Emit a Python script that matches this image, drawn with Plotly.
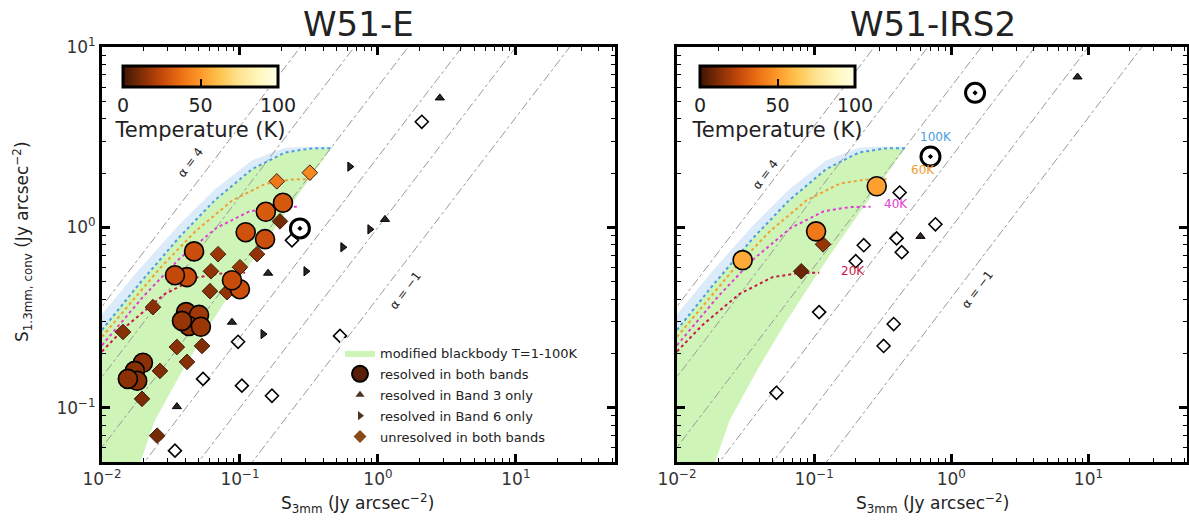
import plotly.graph_objects as go

W, H = 1189, 523
FONT = "DejaVu Sans"

# 1.3 mm / 3 mm frequency ratio (226 GHz / 92 GHz) for constant spectral-index lines
NU_RATIO = 226.0 / 92.0
ALPHAS = [4, 3, 2, 1, 0, -1]

# modified blackbody envelope in the (S_3mm, S_1.3mm) plane, Jy/arcsec^2
mbb_upper_x = [0.01, 0.0184, 0.0361, 0.0655, 0.122, 0.212, 0.328, 0.431, 0.467]
mbb_upper_y = [0.27, 0.481, 0.877, 1.411, 2.10, 2.60, 2.74, 2.75, 2.75]
mbb_lower_x = [0.46, 0.23, 0.134, 0.086, 0.062, 0.0383, 0.02415, 0.019, 0.01]
mbb_lower_y = [2.75, 1.30, 0.723, 0.437, 0.297, 0.161, 0.0849, 0.05, 0.05]
halo_x = [0.01, 0.0184, 0.0361, 0.0655, 0.122, 0.212, 0.30, 0.467]
halo_y = [0.33, 0.58, 1.03, 1.62, 2.35, 2.76, 2.80, 2.80]

# fixed-temperature tracks (optical depth increasing to the right)
t100_x = [0.01, 0.0184, 0.0361, 0.0655, 0.122, 0.212, 0.328, 0.431, 0.467]
t100_y = [0.27, 0.481, 0.877, 1.411, 2.10, 2.60, 2.74, 2.75, 2.75]
t60_x = [0.01, 0.0261, 0.0474, 0.0881, 0.1534, 0.2376, 0.312, 0.338]
t60_y = [0.247, 0.590, 0.949, 1.412, 1.746, 1.844, 1.85, 1.85]
t40_x = [0.01, 0.02, 0.0362, 0.0674, 0.1173, 0.1817, 0.2387, 0.258]
t40_y = [0.222, 0.415, 0.667, 0.992, 1.227, 1.296, 1.30, 1.30]
t20_x = [0.01, 0.0153, 0.0285, 0.0496, 0.0769, 0.101, 0.109]
t20_y = [0.205, 0.287, 0.427, 0.529, 0.558, 0.56, 0.56]
track_labels = ["100K", "60K", "40K", "20K"]
track_colors = ["#4a9ee0", "#f0a030", "#e040d0", "#c81848"]

# ---------------- W51-E ----------------
e_both_x = [0.205, 0.154, 0.110, 0.152, 0.0465, 0.0413, 0.0338, 0.1, 0.0875, 0.0407,
            0.0505, 0.0427, 0.0521, 0.038, 0.0198, 0.0173, 0.0180, 0.0154]
e_both_y = [1.37, 1.22, 0.94, 0.86, 0.736, 0.53, 0.543, 0.454, 0.509, 0.339,
            0.327, 0.284, 0.281, 0.303, 0.1775, 0.16, 0.141, 0.1445]
e_both_t = [30, 31, 28, 27, 27, 26, 25, 27, 26, 17, 18, 16, 17, 16, 14, 13, 13, 14]

e_unres_x = [0.185, 0.321, 0.0694, 0.0616, 0.1, 0.0606, 0.0805, 0.0234, 0.0142,
             0.0349, 0.0531, 0.0413, 0.0263, 0.0195, 0.0251, 0.133, 0.195]
e_unres_y = [1.80, 2.01, 0.71, 0.571, 0.601, 0.443, 0.437, 0.361, 0.263,
             0.217, 0.220, 0.1795, 0.16, 0.112, 0.070, 0.71, 1.08]
e_unres_t = [40, 45, 17, 15, 17, 14, 15, 14, 13, 14, 12, 13, 12, 11, 10, 15, 10]

e_b3_x = [1.125, 0.16, 0.0875, 2.81, 0.0349]
e_b3_y = [1.107, 0.557, 0.298, 5.22, 0.1014]
e_b6_x = [0.557, 0.301, 0.875, 0.147, 0.626]
e_b6_y = [0.776, 0.571, 0.975, 0.256, 2.17]

e_lim_x = [0.238, 0.0969, 0.054, 0.1033, 0.1706, 0.0338, 0.531, 2.08]
e_lim_y = [0.847, 0.232, 0.1445, 0.1325, 0.1165, 0.0578, 0.25, 3.85]
e_ring_x = [0.272]
e_ring_y = [0.987]

# ---------------- W51-IRS2 ----------------
i_both_x = [0.286, 0.1033, 0.0301]
i_both_y = [1.69, 0.95, 0.658]
i_both_t = [52, 40, 55]
i_unres_x = [0.116, 0.0805]
i_unres_y = [0.805, 0.571]
i_unres_t = [16, 8]
i_b3_x = [0.596, 8.32]
i_b3_y = [0.891, 6.82]
i_lim_x = [0.42, 0.23, 0.201, 0.399, 0.435, 0.766, 0.1087, 0.0531, 0.38, 0.321]
i_lim_y = [1.56, 0.796, 0.649, 0.869, 0.728, 1.04, 0.339, 0.121, 0.291, 0.220]
i_ring_x = [0.705, 1.49]
i_ring_y = [2.47, 5.57]

x_tick_vals = [0.01, 0.1, 1, 10]
x_tick_text = ["10<sup>−2</sup>", "10<sup>−1</sup>", "10<sup>0</sup>", "10<sup>1</sup>"]
y_tick_vals = [0.1, 1, 10]
y_tick_text = ["10<sup>−1</sup>", "10<sup>0</sup>", "10<sup>1</sup>"]

TEMP_SCALE = [[0.0, "#3d1505"], [0.125, "#842e05"], [0.25, "#c4480a"],
              [0.375, "#ec7014"], [0.5, "#fe9929"], [0.625, "#fec44f"],
              [0.75, "#fee391"], [0.875, "#fff7bc"], [1.0, "#ffffe5"]]


def paper(px, py):
    return px / W, 1 - py / H


fig = go.Figure()


def add_panel(xa, ya, cax, both, unres, b3, b6, lim, ring):
    # blackbody envelope
    fig.add_trace(go.Scatter(
        x=halo_x + t100_x[::-1], y=halo_y + t100_y[::-1], fill="toself",
        fillcolor="rgba(175,210,245,0.45)", line=dict(width=0), mode="lines",
        hoverinfo="skip", showlegend=False, xaxis=xa, yaxis=ya))
    fig.add_trace(go.Scatter(
        x=mbb_upper_x + mbb_lower_x, y=mbb_upper_y + mbb_lower_y, fill="toself",
        fillcolor="#cff4b8", line=dict(width=0), mode="lines",
        name="modified blackbody T=1-100K", legendgroup="g0", legendrank=1,
        showlegend=(xa == "x"), xaxis=xa, yaxis=ya))
    # constant spectral index lines
    for a in ALPHAS:
        xs = [1e-3, 1e3]
        fig.add_trace(go.Scatter(
            x=xs, y=[v * NU_RATIO ** a for v in xs], mode="lines",
            line=dict(color="#9a9a9a", width=1, dash="dashdot"),
            hoverinfo="skip", showlegend=False, xaxis=xa, yaxis=ya))
    # temperature tracks
    for (tx, ty), col in zip([(t100_x, t100_y), (t60_x, t60_y), (t40_x, t40_y),
                              (t20_x, t20_y)], track_colors):
        fig.add_trace(go.Scatter(
            x=tx, y=ty, mode="lines", line=dict(color=col, width=2, dash="dot"),
            hoverinfo="skip", showlegend=False, xaxis=xa, yaxis=ya))
    # sources
    lx, ly = lim
    fig.add_trace(go.Scatter(
        x=lx, y=ly, mode="markers", showlegend=False, xaxis=xa, yaxis=ya,
        marker=dict(symbol="diamond-open", size=10, color="black",
                    line=dict(width=1.6))))
    rx, ry = ring
    fig.add_trace(go.Scatter(
        x=rx, y=ry, mode="markers", showlegend=False, xaxis=xa, yaxis=ya,
        marker=dict(symbol="circle-dot", size=19, color="white",
                    line=dict(width=3, color="black"))))
    if b3 is not None:
        fig.add_trace(go.Scatter(
            x=b3[0], y=b3[1], mode="markers", showlegend=False, xaxis=xa, yaxis=ya,
            marker=dict(symbol="triangle-up", size=8, color="#2e2420",
                        line=dict(width=1, color="black"))))
    if b6 is not None:
        fig.add_trace(go.Scatter(
            x=b6[0], y=b6[1], mode="markers", showlegend=False, xaxis=xa, yaxis=ya,
            marker=dict(symbol="triangle-right", size=8, color="#2e2420",
                        line=dict(width=1, color="black"))))
    ux, uy, ut = unres
    fig.add_trace(go.Scatter(
        x=ux, y=uy, mode="markers", showlegend=False, xaxis=xa, yaxis=ya,
        marker=dict(symbol="diamond", size=12, color=ut, coloraxis=cax,
                    line=dict(width=1, color="#3a2010"))))
    bx, by, bt = both
    fig.add_trace(go.Scatter(
        x=bx, y=by, mode="markers", showlegend=False, xaxis=xa, yaxis=ya,
        marker=dict(symbol="circle", size=19, color=bt, coloraxis=cax,
                    line=dict(width=1.6, color="black"))))


add_panel("x", "y", "coloraxis",
          (e_both_x, e_both_y, e_both_t), (e_unres_x, e_unres_y, e_unres_t),
          (e_b3_x, e_b3_y), (e_b6_x, e_b6_y), (e_lim_x, e_lim_y), (e_ring_x, e_ring_y))
add_panel("x2", "y2", "coloraxis2",
          (i_both_x, i_both_y, i_both_t), (i_unres_x, i_unres_y, i_unres_t),
          (i_b3_x, i_b3_y), None, (i_lim_x, i_lim_y), (i_ring_x, i_ring_y))

# legend entries
legend_items = [
    ("resolved in both bands", dict(symbol="circle", size=16, color="#5a1e08",
                                    line=dict(width=2, color="black"))),
    ("resolved in Band 3 only", dict(symbol="triangle-up", size=8, color="#4a3426")),
    ("resolved in Band 6 only", dict(symbol="triangle-right", size=8, color="#4a3426")),
    ("unresolved in both bands", dict(symbol="diamond", size=10, color="#8a4a1a")),
]
for k, (name, mk) in enumerate(legend_items):
    fig.add_trace(go.Scatter(x=[None], y=[None], mode="markers", name=name,
                             marker=mk, legendgroup=f"g{k + 1}", legendrank=k + 2,
                             xaxis="x", yaxis="y"))

minor_vals = [m * 10 ** e for e in range(-3, 3) for m in range(2, 10)]


def axis_style(domain, rng, tickvals, ticktext, anchor, labels=True):
    return dict(
        type="log", domain=domain, range=rng, anchor=anchor, automargin=False,
        tickvals=tickvals, ticktext=ticktext, showticklabels=labels,
        ticks="inside", ticklen=8, tickwidth=2.5, tickcolor="black",
        showline=True, linewidth=3, linecolor="black", mirror="allticks",
        showgrid=False, zeroline=False,
        tickfont=dict(family=FONT, size=17, color="#333"),
        minor=dict(tickvals=minor_vals, ticks="inside", ticklen=4,
                   tickwidth=1.2, tickcolor="black", showgrid=False),
    )


xr = [-2, 1.7185]
yr = [-1.30103, 1]
xd1 = [102 / W, 615 / W]
xd2 = [677 / W, 1187 / W]
yd = [1 - 462 / H, 1 - 47 / H]


def cbar(cx):
    return dict(orientation="h", x=cx, xanchor="center", y=1 - 66 / H,
                yanchor="top", ypad=0, xpad=0, len=155, lenmode="pixels",
                thickness=21, thicknessmode="pixels", outlinewidth=3,
                outlinecolor="black", tickvals=[0, 50, 100], ticks="inside",
                ticklen=9, tickwidth=2, tickcolor="black",
                tickfont=dict(family=FONT, size=19, color="#222"),
                title=dict(text="Temperature (K)", side="bottom",
                           font=dict(family=FONT, size=21, color="#222")))


fig.update_layout(
    width=W, height=H, margin=dict(l=0, r=0, t=0, b=0, autoexpand=False),
    paper_bgcolor="white", plot_bgcolor="white",
    font=dict(family=FONT, color="#222"),
    xaxis=axis_style(xd1, xr, x_tick_vals, x_tick_text, "y"),
    yaxis=axis_style(yd, yr, y_tick_vals, y_tick_text, "x"),
    xaxis2=axis_style(xd2, xr, x_tick_vals, x_tick_text, "y2"),
    yaxis2=axis_style(yd, yr, y_tick_vals, y_tick_text, "x2", labels=False),
    coloraxis=dict(colorscale=TEMP_SCALE, cmin=0, cmax=100,
                   colorbar=cbar(200.5 / W)),
    coloraxis2=dict(colorscale=TEMP_SCALE, cmin=0, cmax=100,
                    colorbar=cbar(777.5 / W)),
    legend=dict(x=340 / W, y=1 - 338 / H, xanchor="left", yanchor="top",
                bgcolor="rgba(255,255,255,0.85)", borderwidth=0,
                font=dict(family=FONT, size=13, color="#222"),
                tracegroupgap=1, itemsizing="trace"),
    showlegend=True,
)

annotations = []


def text_at(px, py, text, size, color="#222", angle=0):
    x, y = paper(px, py)
    annotations.append(dict(x=x, y=y, xref="paper", yref="paper", text=text,
                            showarrow=False, textangle=angle,
                            font=dict(family=FONT, size=size, color=color),
                            xanchor="center", yanchor="middle"))


text_at(358, 24, "W51-E", 34)
text_at(933, 24, "W51-IRS2", 34)
xlab = "S<sub>3mm</sub> (Jy arcsec<sup>−2</sup>)"
text_at(357, 503, xlab, 17)
text_at(932, 503, xlab, 17)
text_at(22, 242, "S<sub>1.3mm, conv</sub> (Jy arcsec<sup>−2</sup>)", 17, angle=-90)

slope_angle = -52.7
text_at(190, 163, "α = 4", 12, angle=slope_angle)
text_at(405, 291, "α = −1", 12, angle=slope_angle)
text_at(765, 175, "α = 4", 12, angle=slope_angle)
text_at(977, 290, "α = −1", 12, angle=slope_angle)

for (px, py), lab, col in zip([(936, 137), (923, 170), (896, 204), (853, 271)],
                              track_labels, track_colors):
    text_at(px, py, lab, 12, color=col)

fig.update_layout(annotations=annotations)

fig.write_html("out.html")
